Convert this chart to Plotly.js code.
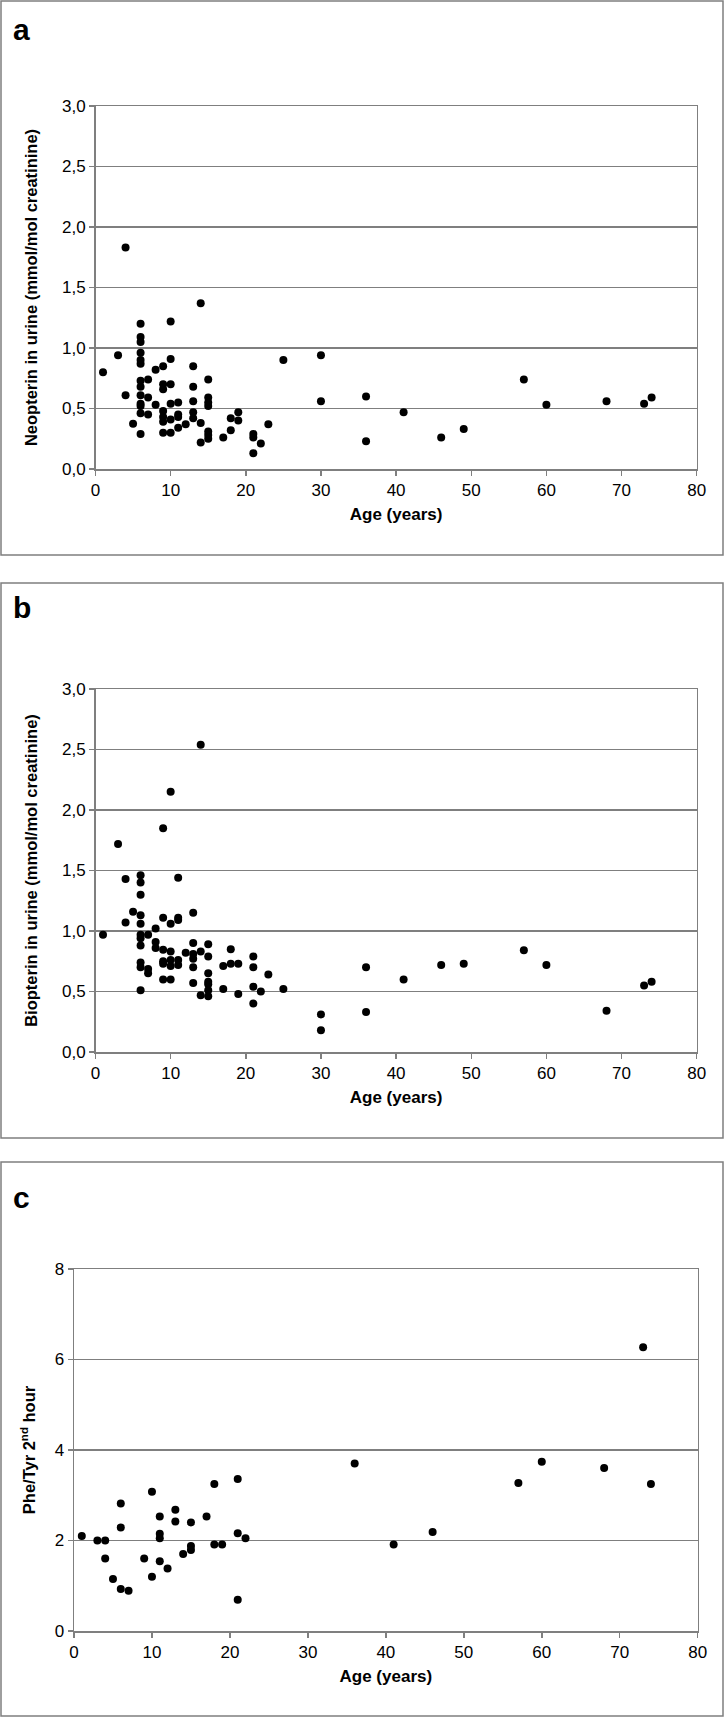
<!DOCTYPE html>
<html>
<head>
<meta charset="utf-8">
<script src="https://cdn.plot.ly/plotly-3.0.1.min.js"></script>
<style>
html,body{margin:0;padding:0;background:#fff;}
#chart{width:725px;height:1719px;}
</style>
</head>
<body>
<div id="chart"></div>
<script>
// Panel a: Neopterin in urine
const ageA = [1,3,4,4,5, 6,6,6,6,6,6,6,6,6,6,6,6,6, 7,7,7, 8,8, 9,9,9,9,9,9,9, 10,10,10,10,10,10, 11,11,11,11, 12, 13,13,13,13,13, 14,14,14, 15,15,15,15,15,15,15, 17, 18,18, 19,19, 21,21,21, 22, 23, 25, 30,30, 36,36, 41, 46, 49, 57, 60, 68, 73, 74];
const neopterin = [0.80,0.94,1.83,0.61,0.375, 1.20,1.09,1.05,0.96,0.90,0.87,0.73,0.68,0.61,0.54,0.52,0.46,0.29, 0.74,0.59,0.45, 0.82,0.53, 0.85,0.70,0.66,0.48,0.43,0.39,0.30, 1.22,0.91,0.70,0.54,0.41,0.30, 0.55,0.45,0.43,0.34, 0.37, 0.85,0.68,0.56,0.47,0.42, 1.37,0.38,0.22, 0.74,0.59,0.55,0.52,0.31,0.28,0.25, 0.26, 0.42,0.32, 0.47,0.40, 0.29,0.26,0.13, 0.21, 0.37, 0.90, 0.94,0.56, 0.60,0.23, 0.47, 0.26, 0.33, 0.74, 0.53, 0.56, 0.54, 0.59];

// Panel b: Biopterin in urine
const ageB = [1,3,4,4,5, 6,6,6,6,6,6,6,6,6,6,6, 7,7,7, 8,8,8, 9,9,9,9,9,9, 10,10,10,10,10,10, 11,11,11,11,11, 12, 13,13,13,13,13,13, 14,14,14, 15,15,15,15,15,15,15, 17,17, 18,18, 19,19, 21,21,21,21, 22, 23, 25, 30,30, 36,36, 41, 46, 49, 57, 60, 68, 73, 74];
const biopterin = [0.97,1.72,1.43,1.07,1.16, 1.46,1.40,1.30,1.13,1.06,0.97,0.94,0.88,0.74,0.70,0.51, 0.97,0.685,0.65, 1.02,0.91,0.86, 1.85,1.11,0.845,0.75,0.73,0.60, 2.15,1.06,0.83,0.76,0.71,0.60, 1.44,1.11,1.09,0.76,0.72, 0.82, 1.15,0.90,0.81,0.77,0.70,0.57, 2.54,0.83,0.47, 0.89,0.79,0.65,0.58,0.56,0.51,0.46, 0.71,0.52, 0.85,0.73, 0.73,0.48, 0.79,0.70,0.54,0.40, 0.50, 0.64, 0.52, 0.31,0.18, 0.70,0.33, 0.60, 0.72, 0.73, 0.84, 0.72, 0.34, 0.55, 0.58];

// Panel c: Phe/Tyr 2nd hour
const ageC = [1,3,4,4,5,6,6,6,7,9,10,10,11,11,11,11,12,13,13,14,15,15,15,17,18,18,19,21,21,21,22,36,41,46,57,60,68,73,74];
const pheTyr = [2.10,2.0,2.0,1.60,1.15,2.82,2.29,0.93,0.89,1.60,3.08,1.20,2.53,2.15,2.05,1.54,1.38,2.68,2.42,1.70,2.40,1.88,1.79,2.53,3.25,1.91,1.91,3.36,2.16,0.69,2.05,3.70,1.91,2.19,3.27,3.74,3.60,6.27,3.25];

const panelLetters = ['a','b','c'];
const xTitle = 'Age (years)';
const yTitles = ['Neopterin in urine (mmol/mol creatinine)', 'Biopterin in urine (mmol/mol creatinine)', 'Phe/Tyr 2<sup>nd</sup> hour'];

const W = 725, H = 1719;
const FONT = '"Liberation Sans", Arial, Helvetica, sans-serif';
const GRAY = '#7f7f7f';
const px = v => v / W;
const py = v => 1 - v / H;

const marker = {color:'#000', size:8, line:{width:0}};
const traces = [
  {x: ageA, y: neopterin, type:'scatter', mode:'markers', marker, xaxis:'x', yaxis:'y', cliponaxis:false},
  {x: ageB, y: biopterin, type:'scatter', mode:'markers', marker, xaxis:'x2', yaxis:'y2', cliponaxis:false},
  {x: ageC, y: pheTyr, type:'scatter', mode:'markers', marker, xaxis:'x3', yaxis:'y3', cliponaxis:false}
];

function xax(domain, anchor){
  return {
    domain, anchor, range:[0,80], tick0:0, dtick:10, ticks:'outside', ticklen:5,
    tickwidth:1.5, tickcolor:GRAY, showline:true, linecolor:GRAY, linewidth:1.5,
    mirror:true, showgrid:false, zeroline:false, fixedrange:true,
    tickfont:{family:FONT, size:17, color:'#000'},
    title:{text:xTitle, font:{family:FONT, size:17, color:'#000', weight:'bold'}, standoff:9}
  };
}
function yax(domain, anchor, range, dtick, fmt, title, standoff){
  return {
    domain, anchor, range, tick0:0, dtick, tickformat:fmt, ticks:'outside', ticklen:5,
    tickwidth:1.5, tickcolor:GRAY, showline:true, linecolor:GRAY, linewidth:1.5,
    mirror:true, showgrid:true, gridcolor:GRAY, gridwidth:1.5, zeroline:false, fixedrange:true,
    tickfont:{family:FONT, size:17, color:'#000'},
    title:{text:title, font:{family:FONT, size:16.5, color:'#000', weight:'bold'}, standoff}
  };
}

const layout = {
  width:W, height:H, margin:{l:0,r:0,t:0,b:0}, showlegend:false,
  paper_bgcolor:'#fff', plot_bgcolor:'#fff', separators:',.',
  font:{family:FONT, color:'#000'},
  xaxis: xax([px(95.5), px(696.7)], 'y'),
  yaxis: yax([py(469), py(106)], 'x', [0,3], 0.5, '.1f', yTitles[0], 20),
  xaxis2: xax([px(95.5), px(696.7)], 'y2'),
  yaxis2: yax([py(1052), py(689)], 'x2', [0,3], 0.5, '.1f', yTitles[1], 20),
  xaxis3: xax([px(74), px(697.7)], 'y3'),
  yaxis3: yax([py(1631), py(1269)], 'x3', [0,8], 2, 'd', yTitles[2], 15),
  shapes: [
    [1,555],[583,1138],[1162,1716]
  ].map(b => ({type:'rect', xref:'paper', yref:'paper', x0:px(1), x1:px(723), y0:py(b[1]), y1:py(b[0]),
    line:{color:GRAY, width:1.5}, fillcolor:'rgba(0,0,0,0)', layer:'below'})),
  annotations: [[29.5,'a'],[607.5,'b'],[1197.5,'c']].map((a,i) => ({
    xref:'paper', yref:'paper', x:px(11), y:py(a[0]), xanchor:'left', yanchor:'middle',
    text:panelLetters[i], showarrow:false, font:{family:FONT, size:30, color:'#000', weight:'bold'}
  }))
};

Plotly.newPlot('chart', traces, layout, {staticPlot:true, displayModeBar:false});
</script>
</body>
</html>
